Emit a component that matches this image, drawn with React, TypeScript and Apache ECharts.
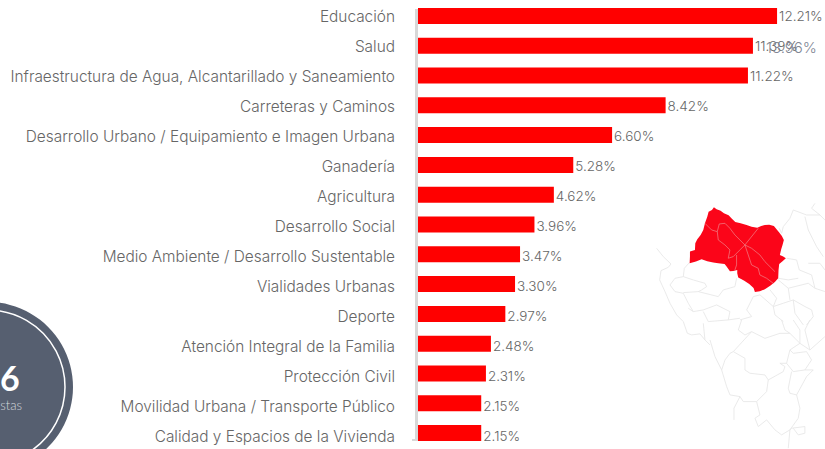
import React, { useEffect, useRef } from "react";
import * as echarts from "echarts";

const categories = [
  "Educación", "Salud", "Infraestructura de Agua, Alcantarillado y Saneamiento", "Carreteras y Caminos",
  "Desarrollo Urbano / Equipamiento e Imagen Urbana", "Ganadería", "Agricultura", "Desarrollo Social",
  "Medio Ambiente / Desarrollo Sustentable", "Vialidades Urbanas", "Deporte", "Atención Integral de la Familia",
  "Protección Civil", "Movilidad Urbana / Transporte Público", "Calidad y Espacios de la Vivienda",
];
const values = [12.21, 11.39, 11.22, 8.42, 6.6, 5.28, 4.62, 3.96, 3.47, 3.3, 2.97, 2.48, 2.31, 2.15, 2.15];
const overlapLabel = "13.96%";
const bigNumber = "6";
const bigCaption = "stas";

const redRegion = "M192 52L200 58L212 62L222 70L236 76L246 86L256 96L272 100L290 105L305 110L322 113L334 108L345 105L358 104L372 108L380 118L388 128L396 138L402 150L398 165L394 178L390 195L400 200L408 205L398 214L388 222L386 240L385 265L375 276L362 287L345 298L330 304L315 306L311 294L298 282L282 272L265 263L262 250L262 240L250 243L240 244L230 230L224 222L205 220L190 218L172 214L155 208L138 215L119 220L120 200L120 185L135 180L136 160L142 148L152 135L160 120L165 100L172 80L176 65L186 60Z";
const redInner = [
  "M165 100L185 120L202 125L208 102L225 100L240 115L255 135L270 150L285 165L325 115",
  "M202 125L205 150L225 165L240 180L235 205L250 200L270 180L285 165L305 175L330 195L345 215L375 245",
  "M285 165L295 195L305 225L325 235L330 255L350 265L370 280",
  "M260 195L260 225L255 240",
].join("");
const grayWest = [
  "M5 25L25 50L48 72L40 82L18 92L14 120L30 155L45 190L65 225L85 245L97 280L110 285L135 282L150 300L165 315",
  "M103 68L88 85L85 110L60 115L45 135L60 155L85 160L100 190L115 215L145 210L185 195L225 215L220 240L160 245L145 215",
  "M85 110L115 120L150 130L155 140L140 150L130 155L85 158",
  "M130 155L150 160L190 170L205 150L240 140L245 115",
  "M145 250L150 300M220 240L255 235M115 215L100 205",
].join("");
const grayEast = [
  "M225 10L215 25L240 45M118 85L125 100L130 80L150 55L160 30L200 45L240 45L255 60",
  "M195 50L205 90L230 140L250 170",
  "M140 175L170 180L178 210L215 225L225 265L255 275",
  "M115 235L145 240L175 235M145 265L150 300M115 240L145 265L205 250L225 265",
  "M205 190L240 190L255 210",
  "M40 290L60 285L100 320L130 310L160 300L195 320L215 330L220 350L200 375",
  "M40 290L20 330L35 350L0 360M100 320L105 345L130 365M160 300L165 340L190 375M90 270L110 295L100 320",
].join("");
const graySouth = [
  "M95 0L85 30L105 45L125 35L165 55L210 40L240 40L270 70L300 90L345 50",
  "M125 35L70 95L60 100L45 120L35 150L50 200L60 225L90 230L100 245L140 245L170 215L175 180L165 165L120 160L105 150L105 115L70 95",
  "M35 150L15 110L0 60",
  "M175 180L220 155L225 140L210 130L230 130L240 90L270 70",
  "M230 130L250 155L285 150L305 120L290 95L250 100L240 90",
  "M90 230L72 265L72 300",
  "M140 245L150 285L135 295L145 320L170 300L195 330L215 345L240 330L265 295L270 265L260 225L240 220L235 205L245 155",
  "M260 225L290 170L310 150L285 150",
  "M240 330L245 325L285 320L285 340L265 345L250 325M240 330L235 385",
  "M215 0L225 30L240 40M250 0L270 30L270 70M300 0L285 30L295 70L300 90",
].join("");

const shapes: Record<string, string> = { redRegion, redInner, grayWest, grayEast, graySouth };
Object.keys(shapes).forEach((k) => echarts.graphic.registerShape(k, echarts.graphic.extendPath(shapes[k], {})));

const CAT_FONT = "Inter";
const third = { scaleX: 1 / 3, scaleY: 1 / 3 };
const grayStyle = { fill: "none", stroke: "#e6e6e6", lineWidth: 2.5 };

export default function App() {
  const ref = useRef<HTMLDivElement>(null);
  useEffect(() => {
    const chart = echarts.init(ref.current!, null, { renderer: "svg" });
    const xBase = { type: "value", min: 0, max: 13.84, show: false };
    chart.setOption({
      animation: false,
      grid: [
        { left: 418, top: 1, width: 407, height: 447 },
        { left: 418, top: 1, width: 407, height: 450 },
      ],
      xAxis: [{ ...xBase, gridIndex: 0 }, { ...xBase, gridIndex: 1 }],
      yAxis: [
        { type: "category", gridIndex: 0, data: categories, inverse: true, show: false },
        {
          type: "category", gridIndex: 1, data: categories, inverse: true,
          axisLine: { show: false }, axisTick: { show: false },
          axisLabel: { color: "#666", fontFamily: CAT_FONT, fontSize: 15.4, fontWeight: 300, margin: 23 },
        },
      ],
      series: [
        { type: "bar", xAxisIndex: 0, yAxisIndex: 0, data: values, barWidth: 16, itemStyle: { color: "#ff0000" }, z: 3 },
        {
          type: "bar", xAxisIndex: 1, yAxisIndex: 1, data: values, barWidth: 16, itemStyle: { color: "rgba(0,0,0,0)" }, z: 4,
          label: {
            show: true, position: "right", distance: 2, color: "#666", fontFamily: CAT_FONT, fontSize: 13.5, fontWeight: 300,
            formatter: (p: any) => p.value.toFixed(2) + "%",
          },
        },
      ],
      graphic: [
        { type: "rect", shape: { x: 415, y: 9, width: 3, height: 432 }, style: { fill: "#d8d8d8" }, z: 1 },
        { type: "rect", shape: { x: 412, y: 439, width: 6, height: 2 }, style: { fill: "#d8d8d8" }, z: 1 },
        { type: "circle", shape: { cx: -12, cy: 387, r: 85 }, style: { fill: "#565f70" }, z: 1 },
        { type: "circle", shape: { cx: -12, cy: 387, r: 77 }, style: { fill: "none", stroke: "#fff", lineWidth: 1.5 }, z: 2 },
        { type: "text", x: 0, y: 377, style: { text: bigNumber, fill: "#fff", font: "bold 34px Lato", textAlign: "left", textVerticalAlign: "middle" }, z: 3 },
        { type: "text", x: 22, y: 405, style: { text: bigCaption, fill: "#d5d8de", font: "300 13px Lato", textAlign: "right", textVerticalAlign: "middle" }, z: 3 },
        { type: "text", x: 766, y: 47, style: { text: overlapLabel, fill: "#808694", font: "300 15px Inter", textAlign: "left", textVerticalAlign: "middle" }, z: 5 },
        { type: "grayWest", x: 655, y: 240, ...third, style: grayStyle, z: 1 },
        { type: "grayEast", x: 740, y: 200, ...third, style: grayStyle, z: 1 },
        { type: "graySouth", x: 710, y: 320, ...third, style: grayStyle, z: 1 },
        { type: "redRegion", x: 650, y: 190, ...third, style: { fill: "#fb0519", stroke: "none" }, z: 2 },
        { type: "redInner", x: 650, y: 190, ...third, style: { fill: "none", stroke: "#f08a90", lineWidth: 2 }, z: 3 },
      ],
    });
    return () => chart.dispose();
  }, []);
  return (
    <div style={{ position: "absolute", left: 0, top: 0, width: 825, height: 449, overflow: "hidden", background: "#fff" }}>
      <div ref={ref} style={{ width: 825, height: 480 }} />
    </div>
  );
}
